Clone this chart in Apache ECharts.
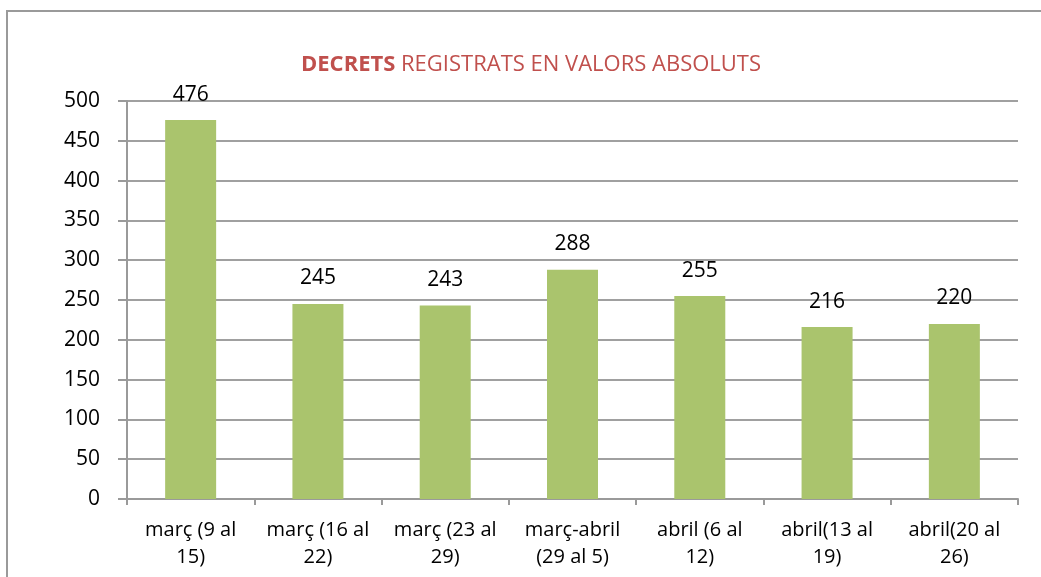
<!DOCTYPE html>
<html>
<head>
<meta charset="utf-8">
<script src="https://cdn.jsdelivr.net/npm/echarts@6/dist/echarts.min.js"></script>
<style>
  html, body { margin: 0; padding: 0; background: #fff; }
  #myEcharts { width: 1041px; height: 577px; }
</style>
</head>
<body>
<div id="myEcharts"></div>
<script>
// dades llegides del gràfic
const categories = [
  "març (9 al\n15)",
  "març (16 al\n22)",
  "març (23 al\n29)",
  "març-abril\n(29 al 5)",
  "abril (6 al\n12)",
  "abril(13 al\n19)",
  "abril(20 al\n26)"
];
const decrets = [476, 245, 243, 288, 255, 216, 220];
const yTicks = [0, 50, 100, 150, 200, 250, 300, 350, 400, 450, 500];

const fontFam = "'Open Sans', 'Noto Sans', sans-serif";
const chartDom = document.getElementById("myEcharts");
const myChart = echarts.init(chartDom);
let option;

option = {
  animation: false,
  textStyle: { fontFamily: fontFam },
  graphic: [
    {
      type: "rect",
      shape: { x: 7, y: 11, width: 1060, height: 600 },
      style: { fill: "none", stroke: "#9a9a9a", lineWidth: 2 },
      silent: true
    }
  ],
  title: {
    text: "{b|DECRETS} REGISTRATS EN VALORS ABSOLUTS",
    left: 296,
    top: 49,
    textStyle: {
      fontFamily: fontFam,
      fontSize: 22,
      fontWeight: "normal",
      color: "#C0504D",
      rich: {
        b: { fontFamily: fontFam, fontSize: 22, fontWeight: "bold", color: "#C0504D" }
      }
    }
  },
  grid: {
    left: 127,
    right: 23,
    top: 101,
    bottom: 78,
    containLabel: false
  },
  xAxis: {
    type: "category",
    data: categories,
    boundaryGap: true,
    axisLine: { lineStyle: { color: "#9a9a9a", width: 2 } },
    axisTick: { show: true, length: 6, lineStyle: { color: "#9a9a9a", width: 2 } },
    axisLabel: {
      color: "#000",
      fontSize: 20,
      fontFamily: fontFam,
      lineHeight: 27,
      margin: 18,
      interval: 0
    }
  },
  yAxis: {
    type: "value",
    min: yTicks[0],
    max: yTicks[yTicks.length - 1],
    interval: 50,
    axisLine: { show: true, lineStyle: { color: "#9a9a9a", width: 2 } },
    axisTick: { show: true, length: 9, lineStyle: { color: "#9a9a9a", width: 2 } },
    axisLabel: { color: "#000", fontSize: 21, fontFamily: fontFam, margin: 27 },
    splitLine: { show: true, lineStyle: { color: "#a0a0a0", width: 2 } }
  },
  series: [
    {
      name: "Decrets",
      type: "bar",
      data: decrets,
      barWidth: 51,
      itemStyle: { color: "#AAC46D" },
      label: {
        show: true,
        position: "top",
        distance: 15,
        color: "#000",
        fontSize: 21,
        fontFamily: fontFam
      }
    }
  ]
};
option && myChart.setOption(option);
</script>
</body>
</html>
